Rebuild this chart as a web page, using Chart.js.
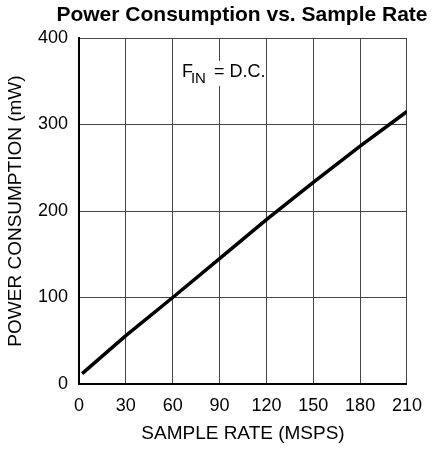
<!DOCTYPE html>
<html>
<head>
<meta charset="utf-8">
<script src="https://cdn.jsdelivr.net/npm/chart.js@4"></script>
<style>
  html, body { margin: 0; padding: 0; background: #fff; }
  #wrap { width: 433px; height: 449px; }
</style>
</head>
<body>
<div id="wrap"><canvas id="chart" width="433" height="449"></canvas></div>
<script>
// data
const sampleRate = [2, 30, 60, 90, 120, 150, 180, 210];
const powerMw = [12, 56, 100, 145, 190, 233, 275, 315];
const xTicks = [0, 30, 60, 90, 120, 150, 180, 210];
const yTicks = [0, 100, 200, 300, 400];

const chartTitle = 'Power Consumption vs. Sample Rate';
const xTitle = 'SAMPLE RATE (MSPS)';
const yTitle = 'POWER CONSUMPTION (mW)';

const FONT = 'Arial, "Liberation Sans", sans-serif';

// draws the title over the plot area and the F_IN note
const overlay = {
  id: 'overlay',
  afterDraw(chart) {
    const { ctx, chartArea } = chart;
    ctx.save();
    ctx.fillStyle = '#000';
    ctx.font = 'bold 21px ' + FONT;
    ctx.textAlign = 'center';
    ctx.textBaseline = 'alphabetic';
    ctx.fillText(chartTitle, (chartArea.left + chartArea.right) / 2 - 1, 21);

    // F_IN = D.C. box
    const x = chart.scales.x.getPixelForValue(65.9);
    const y = chart.scales.y.getPixelForValue(355);
    ctx.fillStyle = '#fff';
    ctx.fillRect(x - 6, y - 16, 88, 25);
    ctx.fillStyle = '#000';
    ctx.textAlign = 'left';
    ctx.font = '18px ' + FONT;
    ctx.fillText('F', x, y);
    ctx.font = '15px ' + FONT;
    ctx.fillText('IN', x + 9, y + 6);
    ctx.font = '18px ' + FONT;
    ctx.fillText('= D.C.', x + 32, y);
    ctx.restore();
  }
};

new Chart(document.getElementById('chart'), {
  type: 'line',
  data: {
    datasets: [{
      data: sampleRate.map((s, i) => ({ x: s, y: powerMw[i] })),
      borderColor: '#000',
      borderWidth: 3.5,
      pointRadius: 0,
      tension: 0,
      fill: false
    }]
  },
  options: {
    responsive: false,
    animation: false,
    layout: { padding: { top: 38, right: 26, left: 0, bottom: 0 } },
    plugins: { legend: { display: false }, tooltip: { enabled: false } },
    scales: {
      x: {
        type: 'linear',
        min: 0,
        max: 210,
        afterBuildTicks: s => { s.ticks = xTicks.map(v => ({ value: v })); },
        afterFit: s => { s.height = 65; },
        grid: { color: '#444', lineWidth: 1, drawTicks: false },
        border: { color: '#000', width: 2 },
        ticks: { color: '#000', font: { family: FONT, size: 18 }, padding: 11, maxRotation: 0 },
        title: { display: true, text: xTitle, color: '#000', font: { family: FONT, size: 19 }, padding: { top: 8 } }
      },
      y: {
        min: 0,
        max: 400,
        afterBuildTicks: s => { s.ticks = yTicks.map(v => ({ value: v })); },
        afterFit: s => { s.width = 79; },
        grid: { color: '#444', lineWidth: 1, drawTicks: false },
        border: { color: '#000', width: 2 },
        ticks: { color: '#000', font: { family: FONT, size: 18 }, padding: 11 },
        title: { display: true, text: yTitle, color: '#000', font: { family: FONT, size: 19 }, padding: { bottom: 2 } }
      }
    }
  },
  plugins: [overlay]
});
</script>
</body>
</html>
